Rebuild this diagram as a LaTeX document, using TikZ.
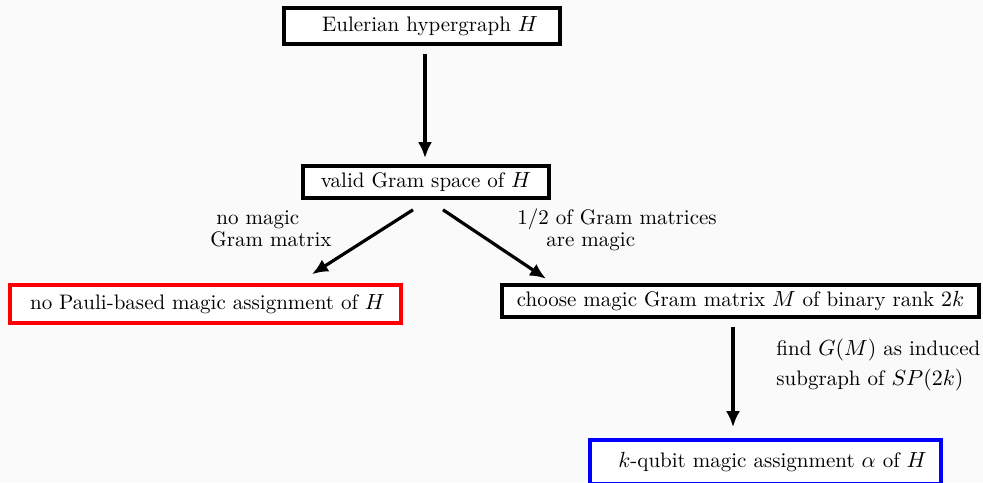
\documentclass[tikz,border=0pt]{standalone}
\usetikzlibrary{arrows.meta}
\begin{document}
\begin{tikzpicture}[x=0.5pt,y=-0.5pt,
  box/.style={draw=black,line width=1.8pt,inner sep=0pt,minimum height=#1,fill=white},
  box/.default=16pt,
  arr/.style={line width=1.6pt,-{Latex[length=8pt,width=7pt]}},
  every node/.append style={font=\fontsize{10.5}{13}\selectfont},
  lbl/.style={align=left,inner sep=0pt,font=\fontsize{10.5}{#1}\selectfont},
  lbl/.default=11pt]
\fill[black!2] (0,0) rectangle (983,482);
\useasboundingbox (0,0) rectangle (983,482);
\node[box=18pt,minimum width=138pt] (euler) at (422,26) {\hspace*{8pt}Eulerian hypergraph $H$};
\node[box=16pt,minimum width=123pt] (valid) at (426,182) {valid Gram space of $H$};
\node[box=19pt,minimum width=195.5pt,draw=red] (nopauli) at (205.5,304) {\hspace*{2pt}no Pauli-based magic assignment of $H$};
\node[box=16pt,minimum width=238.5pt] (choose) at (740.5,301) {choose magic Gram matrix $M$ of binary rank $2k$};
\node[box=22pt,minimum width=175.5pt,draw=blue] (kqubit) at (765.5,462) {\hspace*{7pt}$k$-qubit magic assignment $\alpha$ of $H$};
\node[lbl,anchor=west] (l1) at (210,229) {\hspace*{3pt}no magic\\Gram matrix};
\node[lbl,anchor=west] (l2) at (517,229.5) {1/2 of Gram matrices\\\hspace*{14.5pt}are magic};
\node[lbl=15pt,anchor=west] (l3) at (776,365) {find $G(M)$ as induced\\subgraph of $SP(2k)$};
\draw[arr] ([shift={(3,8)}]euler.south) -- ([shift={(-1,-6)}]valid.north);
\draw[arr] ([shift={(-13,10)}]valid.south) -- ([shift={(106.5,-9)}]nopauli.north);
\draw[arr] ([shift={(17,10)}]valid.south) -- ([shift={(-194.5,-4.5)}]choose.north);
\draw[arr] ([shift={(-7.5,8)}]choose.south) -- ([shift={(-32.5,-11)}]kqubit.north);
\end{tikzpicture}
\end{document}
